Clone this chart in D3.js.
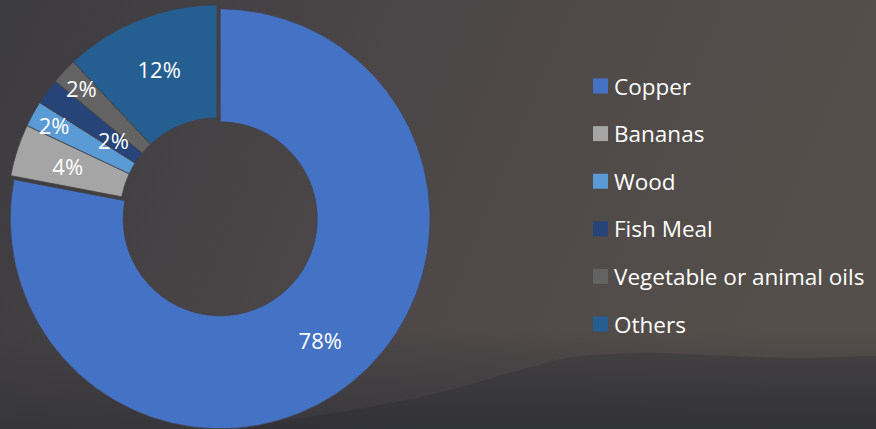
<!DOCTYPE html>
<html>
<head>
<meta charset="utf-8">
<script src="https://cdn.jsdelivr.net/npm/d3@7"></script>
<style>
  html, body { margin: 0; padding: 0; background: #48444a; }
  svg { display: block; }
</style>
</head>
<body>
<div id="chart"></div>
<script>
// Chart data
const categories = ['Copper', 'Bananas', 'Wood', 'Fish Meal', 'Vegetable or animal oils', 'Others'];
const shares = [78, 4, 2, 2, 2, 12];
const colors = ['#4472C4', '#A5A5A5', '#5B9BD5', '#264478', '#636363', '#255E91'];

const width = 876, height = 429;

const svg = d3.select('#chart')
    .append('svg')
    .attr('width', width)
    .attr('height', height);

// Background: dark dusk sky with a hill silhouette
const defs = svg.append('defs');
const sky = defs.append('linearGradient')
    .attr('id', 'sky')
    .attr('x1', 0).attr('y1', 0).attr('x2', 1).attr('y2', 0.2);
sky.append('stop').attr('offset', '0%').attr('stop-color', '#3c3b40');
sky.append('stop').attr('offset', '45%').attr('stop-color', '#4b4647');
sky.append('stop').attr('offset', '100%').attr('stop-color', '#554f4b');

const ground = defs.append('linearGradient')
    .attr('id', 'ground')
    .attr('x1', 0).attr('y1', 0).attr('x2', 0).attr('y2', 1);
ground.append('stop').attr('offset', '0%').attr('stop-color', '#3c3b3f');
ground.append('stop').attr('offset', '100%').attr('stop-color', '#2f3035');

svg.append('rect')
    .attr('width', width)
    .attr('height', height)
    .attr('fill', 'url(#sky)');

// bottom haze
const haze = defs.append('linearGradient')
    .attr('id', 'haze')
    .attr('x1', 0).attr('y1', 0).attr('x2', 0).attr('y2', 1);
haze.append('stop').attr('offset', '0%').attr('stop-color', '#35353a').attr('stop-opacity', 0);
haze.append('stop').attr('offset', '100%').attr('stop-color', '#35353a').attr('stop-opacity', 0.9);
svg.append('rect')
    .attr('y', 330)
    .attr('width', width)
    .attr('height', height - 330)
    .attr('fill', 'url(#haze)');

const hill = [[200, 429], [300, 418], [380, 405], [450, 390], [520, 370], [580, 356], [650, 353],
    [730, 356], [800, 358], [876, 356], [876, 429]];
svg.append('path')
    .attr('d', d3.line().curve(d3.curveMonotoneX)(hill) + 'Z')
    .attr('fill', 'url(#ground)')
    .attr('opacity', 0.7);

// Donut
const cx = 217, cy = 215;
const outerR = 210, innerR = 97;

const pie = d3.pie().sort(null).value(d => d);
const arcs = pie(shares);

const arc = d3.arc().innerRadius(innerR).outerRadius(outerR);

const g = svg.append('g').attr('transform', `translate(${cx},${cy})`);

// copper slice pulled out a little
function offset(d, i) {
    if (i !== 0) return [0, 0];
    const a = (d.startAngle + d.endAngle) / 2;
    return [Math.sin(a) * 5, -Math.cos(a) * 5];
}

g.selectAll('path.slice')
    .data(arcs)
    .join('path')
    .attr('class', 'slice')
    .attr('transform', (d, i) => `translate(${offset(d, i)})`)
    .attr('d', arc)
    .attr('fill', (d, i) => colors[i])
    .attr('stroke', '#444044')
    .attr('stroke-width', 0.8);

// label radius: small slices alternate outward/inward so they don't collide
function labelRadius(d, i) {
    if (i === 2 || i === 4) return 186;
    if (i === 3) return 128;
    return 157;
}

g.selectAll('text.label')
    .data(arcs)
    .join('text')
    .attr('class', 'label')
    .attr('x', (d, i) => Math.sin((d.startAngle + d.endAngle) / 2) * labelRadius(d, i) + offset(d, i)[0])
    .attr('y', (d, i) => -Math.cos((d.startAngle + d.endAngle) / 2) * labelRadius(d, i) + offset(d, i)[1])
    .attr('text-anchor', 'middle')
    .attr('dominant-baseline', 'central')
    .attr('fill', '#ffffff')
    .style('font-family', '"Open Sans", "Noto Sans", sans-serif')
    .style('font-size', '22px')
    .text(d => d.data + '%');

// Legend
const legendY = d3.scalePoint()
    .domain(categories)
    .range([86, 324]);

const legend = svg.append('g')
    .selectAll('g')
    .data(categories)
    .join('g')
    .attr('transform', d => `translate(593,${legendY(d)})`);

legend.append('rect')
    .attr('x', 0)
    .attr('y', -7.5)
    .attr('width', 15)
    .attr('height', 15)
    .attr('fill', (d, i) => colors[i]);

legend.append('text')
    .attr('x', 21)
    .attr('y', 0)
    .attr('dominant-baseline', 'central')
    .attr('fill', '#ffffff')
    .style('font-family', '"Open Sans", "Noto Sans", sans-serif')
    .style('font-size', '22.5px')
    .text(d => d);
</script>
</body>
</html>
